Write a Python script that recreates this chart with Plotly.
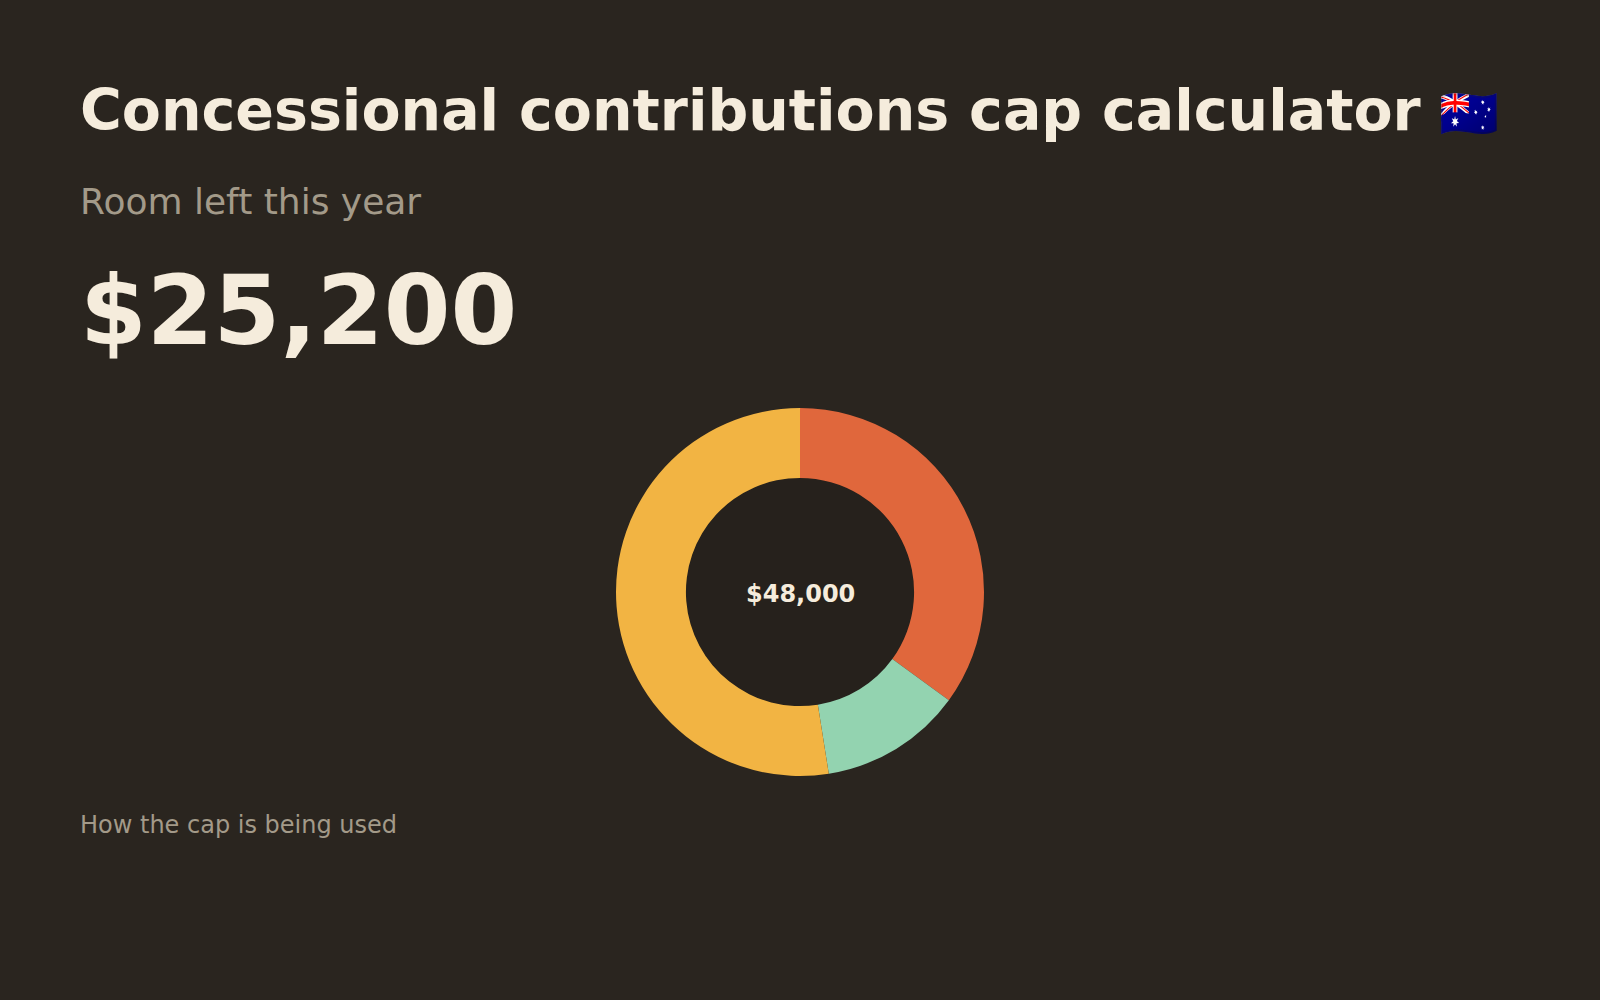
import plotly.graph_objects as go

# contribution breakdown against the concessional cap
labels = ["Employer SG", "Salary sacrifice", "Room left"]
values = [16800, 6000, 25200]
colors = ["#e0673c", "#93d3b0", "#f2b443"]

total_cap = sum(values)
room_left = values[-1]

BG = "#2a251f"
HOLE = "#26211c"
CREAM = "#f5ecdc"
MUTED = "#a39a89"
FONT = "DejaVu Sans"

W, H = 1600, 1000
cx, cy, r = 800, 592, 184   # donut centre/radius in px
hole = 0.62

fig = go.Figure(go.Pie(
    labels=labels,
    values=values,
    marker=dict(colors=colors, line=dict(width=0)),
    hole=hole,
    sort=False,
    direction="clockwise",
    rotation=0,
    textinfo="none",
    hoverinfo="label+value",
    showlegend=False,
    domain=dict(x=[(cx - r) / W, (cx + r) / W],
                y=[1 - (cy + r) / H, 1 - (cy - r) / H]),
))

# darker fill behind the hole
fig.add_shape(
    type="circle", xref="paper", yref="paper", layer="below",
    x0=(cx - r * hole) / W, x1=(cx + r * hole) / W,
    y0=1 - (cy + r * hole) / H, y1=1 - (cy - r * hole) / H,
    fillcolor=HOLE, line=dict(width=0),
)

left = 78 / W
fig.add_annotation(x=left, y=1 - 110 / H, xref="paper", yref="paper",
                   xanchor="left", yanchor="middle", showarrow=False,
                   text="<b>Concessional contributions cap calculator</b> "
                        "<span style='font-size:48px'>🇦🇺</span>",
                   font=dict(family=FONT, size=57, color=CREAM))
fig.add_annotation(x=left, y=1 - 202 / H, xref="paper", yref="paper",
                   xanchor="left", yanchor="middle", showarrow=False,
                   text="Room left this year",
                   font=dict(family=FONT, size=36, color=MUTED))
fig.add_annotation(x=left, y=1 - 311 / H, xref="paper", yref="paper",
                   xanchor="left", yanchor="middle", showarrow=False,
                   text=f"<b>${room_left:,}</b>",
                   font=dict(family=FONT, size=96, color=CREAM))
fig.add_annotation(x=cx / W, y=1 - (cy + 2) / H, xref="paper", yref="paper",
                   xanchor="center", yanchor="middle", showarrow=False,
                   text=f"<b>${total_cap:,}</b>",
                   font=dict(family=FONT, size=24, color=CREAM))
fig.add_annotation(x=left, y=1 - 825 / H, xref="paper", yref="paper",
                   xanchor="left", yanchor="middle", showarrow=False,
                   text="How the cap is being used",
                   font=dict(family=FONT, size=24, color=MUTED))

fig.update_layout(
    width=W, height=H,
    margin=dict(l=0, r=0, t=0, b=0),
    paper_bgcolor=BG,
    plot_bgcolor=BG,
    font=dict(family=FONT, color=CREAM),
)

fig.write_html("out.html", config={"displayModeBar": False},
               post_script="document.body.style.margin='0';")
